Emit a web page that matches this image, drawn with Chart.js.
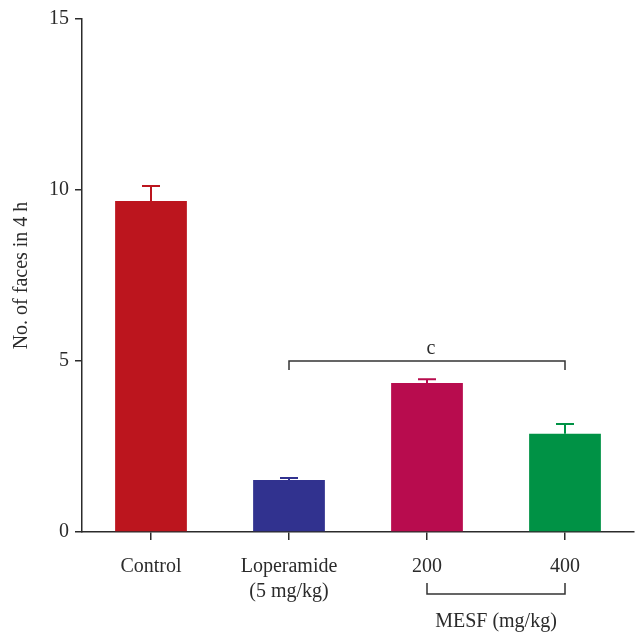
<!DOCTYPE html>
<html>
<head>
<meta charset="utf-8">
<script src="https://cdn.jsdelivr.net/npm/chart.js@4"></script>
<style>
  html, body { margin: 0; padding: 0; background: #fff; }
  #wrap { width: 637px; height: 633px; position: relative; }
</style>
</head>
<body>
<div id="wrap"><canvas id="chart"></canvas></div>
<script>
// Data
const categories = ['Control', ['Loperamide', '(5 mg/kg)'], '200', '400'];
const means = [9.68, 1.52, 4.36, 2.87];
const errors = [0.44, 0.06, 0.11, 0.29];
const barColors = ['#BC151E', '#31328F', '#B80C4E', '#009245'];
const yTicks = [0, 5, 10, 15];
const sigLabel = 'c';
const sigFrom = 1, sigTo = 3, sigValue = 5;
const groupLabel = 'MESF (mg/kg)';
const groupFrom = 2, groupTo = 3;

const FONT = '"Liberation Serif", "DejaVu Serif", serif';
const INK = '#2B2B2B';

// error bars: stem + cap above each bar
const errorBarPlugin = {
    id: 'errorBars',
    afterDatasetsDraw(chart) {
        const { ctx, scales: { x, y } } = chart;
        ctx.save();
        ctx.lineWidth = 2;
        means.forEach((m, i) => {
            const cx = x.getPixelForValue(i);
            const yTop = y.getPixelForValue(m + errors[i]);
            const yBar = y.getPixelForValue(m);
            ctx.strokeStyle = barColors[i];
            ctx.beginPath();
            ctx.moveTo(cx, yBar);
            ctx.lineTo(cx, yTop);
            ctx.moveTo(cx - 9, yTop);
            ctx.lineTo(cx + 9, yTop);
            ctx.stroke();
        });
        ctx.restore();
    }
};

// significance bracket and the group bracket under the axis
const bracketPlugin = {
    id: 'brackets',
    afterDraw(chart) {
        const { ctx, scales: { x, y } } = chart;
        ctx.save();
        ctx.strokeStyle = '#333';
        ctx.lineWidth = 1.5;
        ctx.fillStyle = INK;
        ctx.font = '20px ' + FONT;
        ctx.textAlign = 'center';

        const x1 = x.getPixelForValue(sigFrom);
        const x2 = x.getPixelForValue(sigTo);
        const yb = y.getPixelForValue(sigValue);
        ctx.beginPath();
        ctx.moveTo(x1, yb + 9);
        ctx.lineTo(x1, yb);
        ctx.lineTo(x2, yb);
        ctx.lineTo(x2, yb + 9);
        ctx.stroke();
        ctx.textBaseline = 'bottom';
        ctx.fillText(sigLabel, (x1 + x2) / 2 + 4, yb - 2);

        const g1 = x.getPixelForValue(groupFrom);
        const g2 = x.getPixelForValue(groupTo);
        const gy = x.top + 62;
        ctx.beginPath();
        ctx.moveTo(g1, gy - 11);
        ctx.lineTo(g1, gy);
        ctx.lineTo(g2, gy);
        ctx.lineTo(g2, gy - 11);
        ctx.stroke();
        ctx.textBaseline = 'middle';
        ctx.fillText(groupLabel, (g1 + g2) / 2, x.top + 90);
        ctx.restore();
    }
};

new Chart(document.getElementById('chart'), {
    type: 'bar',
    data: {
        labels: categories,
        datasets: [{
            data: means,
            backgroundColor: barColors,
            borderWidth: 0,
            barPercentage: 0.52,
            categoryPercentage: 1.0
        }]
    },
    options: {
        responsive: true,
        maintainAspectRatio: false,
        animation: false,
        layout: { padding: { top: 19, right: 3, left: 0, bottom: 0 } },
        plugins: {
            legend: { display: false },
            tooltip: { enabled: false }
        },
        scales: {
            x: {
                offset: true,
                border: { display: true, color: INK, width: 1.5 },
                grid: { drawOnChartArea: false, drawTicks: true, tickLength: 8, color: INK, lineWidth: 1.5, offset: false },
                ticks: {
                    color: INK,
                    font: { family: FONT, size: 20, lineHeight: 1.25 },
                    padding: 14,
                    maxRotation: 0,
                    autoSkip: false
                },
                afterFit(scale) { scale.height = 101; }
            },
            y: {
                min: 0,
                max: 15,
                afterBuildTicks(scale) { scale.ticks = yTicks.map(v => ({ value: v })); },
                border: { display: true, color: INK, width: 1.5 },
                grid: { drawOnChartArea: false, drawTicks: true, tickLength: 7, color: INK, lineWidth: 1.5 },
                ticks: {
                    color: INK,
                    font: { family: FONT, size: 20 },
                    padding: 6
                },
                title: {
                    display: true,
                    text: 'No. of faces in 4 h',
                    color: INK,
                    font: { family: FONT, size: 20 },
                    padding: { top: 10, bottom: 0 }
                },
                afterFit(scale) { scale.width = 82; }
            }
        }
    },
    plugins: [errorBarPlugin, bracketPlugin]
});
</script>
</body>
</html>
